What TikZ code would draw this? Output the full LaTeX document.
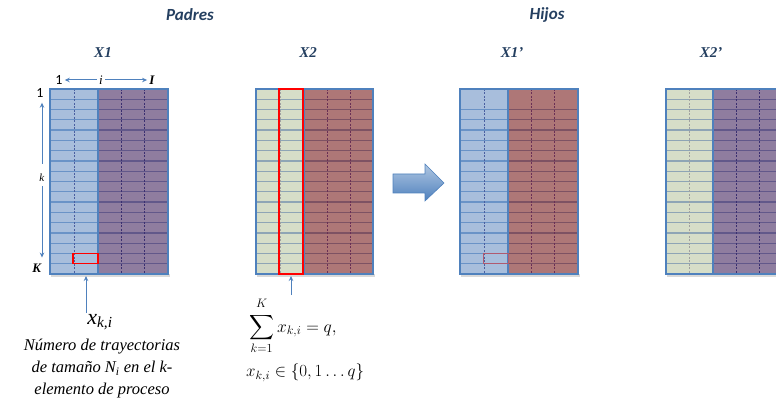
\RequirePackage{fix-cm}
\documentclass[tikz,border=0pt]{standalone}
\usepackage{amsmath}
\usepackage{fontspec}
\setmainfont{Liberation Serif}
\newfontfamily\serifa{Liberation Serif}
\newfontfamily\carlito{Carlito}
\usetikzlibrary{arrows.meta}

\definecolor{azulborde}{HTML}{4F81BD}
\definecolor{titulo}{HTML}{243F60}
\definecolor{azulcelda}{HTML}{A8BEDC}
\definecolor{azullinea}{HTML}{6A93C7}
\definecolor{azuldash}{HTML}{4A5FA0}
\definecolor{moradocelda}{HTML}{8F7D9F}
\definecolor{moradolinea}{HTML}{62588A}
\definecolor{moradodash}{HTML}{3B2F70}
\definecolor{verdecelda}{HTML}{D6DEC8}
\definecolor{verdelinea}{HTML}{8EA5B5}
\definecolor{verdedash}{HTML}{A0A0A0}
\definecolor{rojocelda}{HTML}{AE7777}
\definecolor{rojolinea}{HTML}{7E5263}
\definecolor{rojodash}{HTML}{6A2F55}
\definecolor{rojotenue}{HTML}{B05A70}

\tikzset{
  titulo/.style={font=\carlito\fontsize{17}{20}\selectfont\bfseries\itshape, text=titulo},
  etiq/.style={font=\serifa\fontsize{15}{17}\selectfont\bfseries\itshape, text=titulo},
  indice/.style={font=\serifa\fontsize{13}{15}\selectfont, inner sep=2pt},
  flecha/.style={draw=azulborde, line width=1pt, -{Stealth[length=5pt,width=4.5pt]}},
  borde/.style={draw=azulborde, line width=1.3pt},
}

% bloque de columnas: x0, x1, n. de guiones, relleno, lineas, guiones, primera fila
\newcommand{\bloque}[7]{%
  \fill[#4] (#1,89) rectangle (#2,274);
  \foreach \fila in {#7,...,17}
    \draw[#5, line width=1.3pt] (#1,{89+\fila*185/18}) -- (#2,{89+\fila*185/18});
  \foreach \col in {1,...,#3}
    \draw[#6, line width=0.9pt, dash pattern=on 2pt off 1.5pt]
      ({#1+(#2-#1)*\col/(#3+1)},89) -- ({#1+(#2-#1)*\col/(#3+1)},274);
}

\begin{document}
\begin{tikzpicture}[x=1pt, y=-1pt]
\clip (0,0) rectangle (776,403);

% titulos
\node[titulo] (padres) at (190,15) {Padres};
\node[titulo] (hijos) at (547,15) {Hijos};

% X1
\node[etiq] (etX1) at (103,53) {X1};
\fill[black, opacity=0.15] (51,274) rectangle (170,277);
\bloque{50}{98}{1}{azulcelda}{azullinea}{azuldash}{1}
\bloque{98}{168}{2}{moradocelda}{moradolinea}{moradodash}{1}
\draw[borde] (50,89) rectangle (168,274);
\draw[borde] (98,89) -- (98,274);
\draw[red, line width=1.2pt] (73,{89+16*185/18}) rectangle (98,{89+17*185/18});
\coordinate (celdaX1) at (86,276);

% X2
\node[etiq] (etX2) at (308,53) {X2};
\fill[black, opacity=0.15] (257,274) rectangle (375,277);
\bloque{256}{304}{1}{verdecelda}{verdelinea}{verdedash}{1}
\bloque{304}{373}{2}{rojocelda}{rojolinea}{rojodash}{1}
\draw[borde] (256,89) rectangle (373,274);
\draw[borde] (304,89) -- (304,274);
\draw[red, line width=1.5pt] (279,89) rectangle (303,274);
\coordinate (celdaX2) at (291,276);

% flecha de cruce
\shade[top color=azulborde!45, bottom color=azulborde, draw=azulborde, line width=0.6pt]
  (393,174) -- (425,174) -- (425,164) -- (444,183) -- (425,201) -- (425,193) -- (393,193) -- cycle;

% X1'
\node[etiq] (etX1p) at (512,53) {X1’};
\fill[black, opacity=0.15] (461,274) rectangle (580,277);
\bloque{460}{508}{1}{azulcelda}{azullinea}{azuldash}{2}
\bloque{508}{578}{2}{rojocelda}{rojolinea}{rojodash}{2}
\draw[borde] (460,89) rectangle (578,274);
\draw[borde] (508,89) -- (508,274);
\draw[rojotenue, line width=0.8pt] (483,{89+16*185/18}) rectangle (508,{89+17*185/18});

% X2'
\node[etiq] (etX2p) at (711,53) {X2’};
\fill[black, opacity=0.15] (667,274) rectangle (786,277);
\bloque{666}{713}{1}{verdecelda}{verdelinea}{verdedash}{1}
\bloque{713}{783}{2}{moradocelda}{moradolinea}{moradodash}{1}
\draw[borde] (666,89) rectangle (783,274);
\draw[borde] (713,89) -- (713,274);

% indices de X1
\node[indice, font=\carlito\fontsize{14}{16}\selectfont] (uno) at (59,80) {1};
\node[indice] (ii) at (101,80) {\textit{i}};
\node[indice] (imax) at (152,80) {\textbf{\textit{I}}};
\node[indice, font=\carlito\fontsize{14}{16}\selectfont] (unoK) at (40,93) {1};
\node[indice, font=\serifa\fontsize{11}{13}\selectfont] (kk) at (42,178) {\textit{k}};
\node[indice] (KK) at (37,268) {\textbf{\textit{K}}};
\draw[flecha] (ii) -- (uno);
\draw[flecha] (ii) -- (imax);
\draw[flecha, shorten <=8pt, shorten >=3pt] (kk) -- (kk |- unoK.south);
\draw[flecha, shorten <=2pt, shorten >=4pt] (kk) -- (kk |- KK.north);

% variable x_{k,i}
\node[font=\serifa\fontsize{22}{24}\selectfont, inner sep=1pt] (xki) at (100,322) {\textit{x\textsubscript{k,i}}};
\node[font=\serifa\fontsize{16.5}{22}\selectfont\itshape, align=center] (desc) at (102,369)
  {Número de trayectorias\\de tamaño \textit{N\textsubscript{i}} en el k-\\elemento de proceso};
\draw[flecha] (celdaX1 |- xki.north) -- (celdaX1);

% restriccion
\node[font=\fontsize{17.5}{20}\selectfont, anchor=west, inner sep=0pt] (suma) at (249,326)
  {$\displaystyle\sum_{k=1}^{\raisebox{3pt}{$\scriptstyle K$}} x_{k,i} = q,$};
\node[font=\fontsize{17}{20}\selectfont, anchor=west, inner sep=0pt] (dominio) at (246,373)
  {$x_{k,i} \in \{0,1\ldots q\}$};
\draw[flecha] (suma.north -| celdaX2) ++(0,-2) -- (celdaX2);
\end{tikzpicture}
\end{document}
